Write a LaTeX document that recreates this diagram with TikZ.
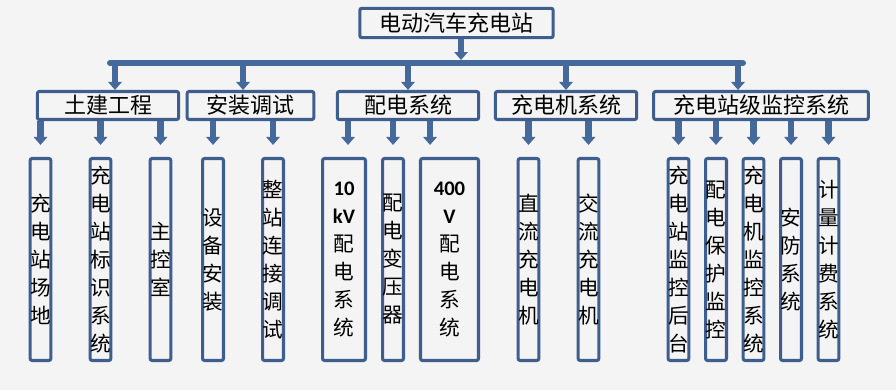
\documentclass[tikz,border=0pt]{standalone}
\usepackage{fontspec}
\setmainfont{Noto Sans CJK SC}
\newfontfamily\digitfont{Carlito}
\usepackage{tikz}
\usetikzlibrary{arrows.meta}
\definecolor{boxblue}{HTML}{3E5F8E}
\definecolor{arrowblue}{HTML}{46699C}
\definecolor{bggray}{HTML}{F4F4F4}
\newcommand{\numtxt}[1]{{\digitfont\bfseries #1}}

\begin{document}
\begin{tikzpicture}[x=0.75pt, y=-0.75pt,
  box/.style={draw=boxblue, line width=2.3pt, rounded corners=1.5pt,
              inner sep=0pt, align=center},
  head/.style={box, minimum width=#1, minimum height=21pt,
               font=\fontsize{16.5}{20}\selectfont},
  leaf/.style={box, minimum width=#1, minimum height=151.5pt,
               font=\fontsize{15.5}{21}\selectfont},
  leaf/.default=15pt,
  bus/.style={arrowblue, line width=4.5pt, line cap=round},
  blockarrow/.style={-{Triangle[width=10pt,length=6pt]}, arrowblue, line width=5pt}
]

%% background, also fixes the page size
\fill[bggray] (0,0) rectangle (896,390);

%% Top
\node[head=145pt, minimum height=22pt] (title) at (456.5,23) {电动汽车充电站};

%% Second row
\node[head=106pt] (tujian)      at (108,105.5)   {土建工程};
\node[head=95pt]  (anzhuang)    at (250.5,105.5) {安装调试};
\node[head=106pt] (peidian)     at (408,105.5)   {配电系统};
\node[head=106pt] (chongdianji) at (566,105.5)   {充电机系统};
\node[head=161pt] (jiankong)    at (761,105.5)   {充电站级监控系统};

%% Leaves
\node[leaf] (changdi) at (40.5,259.5)  {充\\电\\站\\场\\地};
\node[leaf] (biaoshi) at (100.5,259.5) {充\\电\\站\\标\\识\\系\\统};
\node[leaf] (zhukong) at (160.5,259.5) {主\\控\\室};
\node[leaf=15.7pt] (shebei)  at (213,259.5) {设\\备\\安\\装};
\node[leaf=15.7pt] (tiaoshi) at (273,259.5) {整\\站\\连\\接\\调\\试};
\node[leaf=32.2pt] (v10)     at (344,259.5)
  {\numtxt{10}\\\numtxt{kV}\\配\\电\\系\\统};
\node[leaf=15.7pt] (bianya)  at (393,259.5) {配\\电\\变\\压\\器};
\node[leaf=43.5pt] (v400)    at (449.5,259.5)
  {\numtxt{400}\\\numtxt{V}\\配\\电\\系\\统};
\node[leaf] (zhiliu)  at (528.5,259.5) {直\\流\\充\\电\\机};
\node[leaf] (jiaoliu) at (588.5,259.5) {交\\流\\充\\电\\机};
\node[leaf] (houtai)  at (678.5,259.5) {充\\电\\站\\监\\控\\后\\台};
\node[leaf=15.7pt] (baohu)   at (716,259.5)   {配\\电\\保\\护\\监\\控};
\node[leaf] (jjk)     at (753.5,259.5) {充\\电\\机\\监\\控\\系\\统};
\node[leaf=15.7pt] (anfang)  at (791,259.5)   {安\\防\\系\\统};
\node[leaf] (jifei)   at (828.5,259.5) {计\\量\\计\\费\\系\\统};

%% Bus bar under the title
\coordinate (busL) at (110,63);
\coordinate (busR) at (743,63);
\draw[bus] (busL) -- (busR);

%% arrow entry points that sit off centre
\coordinate (titleout)   at ([xshift=3.4pt]title.south);
\coordinate (tujianin)   at ([xshift=5.25pt]tujian.north);
\coordinate (anzhuangin) at ([xshift=-5.6pt]anzhuang.north);
\coordinate (jiankongin) at ([xshift=-17.25pt]jiankong.north);
\coordinate (v10top)     at ([xshift=3pt]v10.north);
\coordinate (v400top)    at ([xshift=-14.6pt]v400.north);

\draw[blockarrow, shorten >=2.25pt] (titleout) -- (titleout |- busL);
\foreach \t in {tujianin, anzhuangin, peidian.north, chongdianji.north, jiankongin}
  \draw[blockarrow] (\t |- busL) -- (\t);

%% Arrows down to the leaves
\foreach \p/\c in {tujian/changdi.north, tujian/biaoshi.north, tujian/zhukong.north,
                   anzhuang/shebei.north, anzhuang/tiaoshi.north,
                   peidian/v10top, peidian/bianya.north, peidian/v400top,
                   chongdianji/zhiliu.north, chongdianji/jiaoliu.north,
                   jiankong/houtai.north, jiankong/baohu.north, jiankong/jjk.north,
                   jiankong/anfang.north, jiankong/jifei.north}
  \draw[blockarrow, shorten >=9pt] (\p.south -| \c) -- (\c);

\end{tikzpicture}
\end{document}
